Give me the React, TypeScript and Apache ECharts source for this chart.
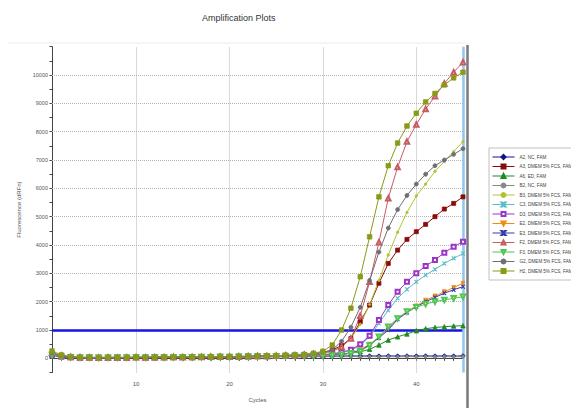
import React, { useEffect, useRef } from "react";
import * as echarts from "echarts";

const cycles = [1, 2, 3, 4, 5, 6, 7, 8, 9, 10, 11, 12, 13, 14, 15, 16, 17, 18, 19, 20, 21, 22, 23, 24, 25, 26, 27, 28, 29, 30, 31, 32, 33, 34, 35, 36, 37, 38, 39, 40, 41, 42, 43, 44, 45];

const xTickLabels = [10, 20, 30, 40];
const yTickLabels = [0, 1000, 2000, 3000, 4000, 5000, 6000, 7000, 8000, 9000, 10000];
const threshold = 1000;

const seriesNames = [
  "A2, NC, FAM",
  "A3, DMEM 5% FCS, FAM",
  "A6, ED, FAM",
  "B2, NC, FAM",
  "B3, DMEM 5% FCS, FAM",
  "C3, DMEM 5% FCS, FAM",
  "D3, DMEM 5% FCS, FAM",
  "E2, DMEM 5% FCS, FAM",
  "E3, DMEM 5% FCS, FAM",
  "F2, DMEM 5% FCS, FAM",
  "F3, DMEM 5% FCS, FAM",
  "G2, DMEM 5% FCS, FAM",
  "H2, DMEM 5% FCS, FAM",
];

const a2 = [120, 60, 40, 30, 35, 30, 40, 35, 30, 40, 35, 40, 45, 40, 50, 45, 50, 55, 50, 60, 55, 60, 65, 60, 70, 65, 70, 75, 70, 80, 75, 80, 85, 80, 85, 80, 85, 80, 85, 80, 85, 80, 85, 80, 85];
const a3 = [150, 70, 40, 20, 30, 20, 25, 30, 20, 30, 25, 30, 35, 30, 40, 45, 40, 50, 55, 60, 60, 70, 75, 80, 90, 100, 110, 130, 160, 200, 300, 450, 700, 1290, 1880, 2650, 3350, 3820, 4200, 4470, 4730, 5000, 5270, 5470, 5700];
const a6 = [180, 90, 50, 30, 25, 30, 20, 25, 30, 35, 30, 35, 40, 45, 40, 50, 45, 55, 60, 55, 65, 70, 75, 80, 85, 95, 100, 110, 115, 120, 130, 150, 180, 230, 320, 470, 645, 760, 860, 975, 1045, 1090, 1115, 1140, 1150];
const b2 = [100, 50, 30, 20, 25, 20, 30, 25, 20, 30, 25, 30, 35, 30, 35, 30, 40, 35, 40, 45, 40, 45, 50, 45, 50, 55, 50, 55, 60, 55, 60, 55, 60, 55, 60, 55, 60, 55, 60, 55, 60, 55, 60, 55, 60];
const b3 = [160, 80, 40, 25, 20, 30, 25, 20, 30, 25, 35, 30, 35, 40, 45, 40, 50, 55, 50, 60, 65, 70, 75, 85, 90, 100, 115, 130, 160, 190, 250, 400, 700, 1200, 1900, 2750, 3650, 4450, 5150, 5730, 6150, 6600, 6950, 7300, 7650];
const c3 = [140, 70, 45, 30, 25, 20, 25, 30, 25, 30, 30, 35, 30, 40, 35, 45, 40, 50, 45, 55, 60, 60, 65, 70, 75, 85, 90, 100, 115, 130, 150, 200, 280, 450, 760, 1235, 1700, 2120, 2435, 2700, 2940, 3140, 3350, 3530, 3700];
const d3 = [130, 60, 35, 25, 30, 25, 20, 30, 25, 35, 30, 30, 40, 35, 45, 40, 45, 50, 55, 50, 60, 65, 70, 75, 80, 90, 95, 105, 120, 135, 150, 220, 300, 500, 800, 1350, 1880, 2350, 2700, 3000, 3260, 3470, 3730, 3940, 4115];
const e2 = [170, 80, 45, 30, 25, 30, 25, 30, 25, 35, 30, 35, 40, 35, 40, 45, 50, 45, 55, 50, 60, 65, 65, 70, 80, 85, 90, 100, 105, 115, 120, 150, 200, 300, 500, 750, 1050, 1410, 1650, 1850, 2050, 2200, 2350, 2500, 2650];
const e3 = [110, 55, 35, 25, 20, 25, 20, 25, 20, 30, 25, 30, 35, 30, 35, 40, 35, 45, 40, 50, 50, 55, 60, 65, 70, 75, 80, 90, 100, 105, 110, 140, 190, 280, 470, 720, 1000, 1380, 1620, 1820, 2000, 2150, 2300, 2420, 2530];
const f2 = [200, 90, 50, 35, 30, 25, 30, 25, 30, 35, 30, 40, 35, 45, 40, 50, 45, 55, 60, 60, 65, 70, 80, 85, 90, 100, 110, 125, 150, 190, 250, 400, 700, 1500, 2700, 4100, 5650, 6750, 7650, 8250, 8800, 9250, 9700, 10100, 10450];
const f3 = [120, 60, 40, 25, 30, 20, 25, 30, 25, 30, 25, 35, 30, 35, 40, 35, 45, 40, 50, 45, 55, 55, 60, 65, 70, 75, 80, 85, 90, 95, 100, 130, 180, 250, 450, 760, 1115, 1410, 1650, 1800, 1915, 2000, 2060, 2120, 2175];
const g2 = [190, 85, 50, 30, 30, 25, 30, 30, 25, 35, 35, 40, 35, 40, 45, 45, 50, 50, 55, 60, 60, 65, 75, 80, 90, 100, 110, 130, 160, 210, 300, 600, 1100, 1800, 2750, 3750, 4600, 5250, 5750, 6150, 6500, 6800, 7000, 7200, 7400];
const h2 = [260, 120, 60, 40, 35, 30, 35, 30, 35, 40, 35, 40, 45, 40, 50, 45, 55, 60, 60, 65, 70, 75, 80, 90, 95, 110, 120, 140, 180, 250, 470, 1000, 1770, 2880, 4290, 5700, 6800, 7600, 8200, 8650, 9050, 9350, 9650, 9900, 10100];

const seriesValues = [a2, a3, a6, b2, b3, c3, d3, e2, e3, f2, f3, g2, h2];

const crossPath = "path://M0,0L2,0L5,3L8,0L10,0L6,5L10,10L8,10L5,7L2,10L0,10L4,5Z";

const seriesStyles: any[] = [
  { color: "#14148a", symbol: "diamond", size: 4.5 },
  { color: "#8b0a0a", symbol: "rect", size: 4 },
  { color: "#1f8a1f", symbol: "triangle", size: 4.5 },
  { color: "#8a8a8a", symbol: "circle", size: 3 },
  { color: "#b3c235", symbol: "circle", size: 2.5 },
  { color: "#5cbcc8", symbol: crossPath, size: 3.5 },
  { color: "#9b35c8", symbol: "emptyRect", size: 4 },
  { color: "#f08c10", symbol: "triangle", size: 4, rotate: 180 },
  { color: "#3a3aa8", symbol: crossPath, size: 3.5 },
  { color: "#c85a64", symbol: "emptyTriangle", size: 4.5 },
  { color: "#52c452", symbol: "emptyTriangle", size: 4.5, rotate: 180 },
  { color: "#6e6e78", symbol: "circle", size: 4 },
  { color: "#8a9a18", symbol: "rect", size: 4.5 },
];

const FONT = "'Liberation Sans Narrow', 'Liberation Sans', Arial, sans-serif";

export default function App() {
  const ref = useRef<HTMLDivElement>(null);

  useEffect(() => {
    if (!ref.current) return;
    const chart = echarts.init(ref.current, null, { renderer: "svg" });

    const dataSeries = seriesNames.map((name, si) => {
      const st = seriesStyles[si];
      return {
        name,
        type: "line",
        data: cycles.map((c, i) => [c, seriesValues[si][i]]),
        symbol: st.symbol,
        symbolSize: st.size,
        symbolRotate: st.rotate || 0,
        showSymbol: true,
        lineStyle: { color: st.color, width: 1 },
        itemStyle: { color: st.color, borderColor: st.color, borderWidth: 0.8 },
        z: 5,
      };
    });

    const gridLines = [
      ...xTickLabels.map((v) => ({ xAxis: v })),
      ...yTickLabels.filter((v) => v > 0).map((v) => ({ yAxis: v })),
    ];

    chart.setOption({
      animation: false,
      backgroundColor: "#ffffff",
      title: {
        text: "Amplification Plots",
        left: 197,
        top: 8,
        textStyle: { fontSize: 9, fontWeight: "normal", color: "#333", fontFamily: FONT },
      },
      legend: {
        data: seriesNames,
        orient: "vertical",
        left: 489,
        top: 148,
        itemWidth: 22,
        itemHeight: 5,
        itemGap: 3.5,
        padding: [6, 3, 6, 3],
        borderColor: "#c0c0c0",
        borderWidth: 1,
        lineStyle: { width: 1 },
        textStyle: { fontSize: 4.6, color: "#444", fontFamily: FONT, lineHeight: 5.5 },
        selectedMode: false,
      },
      grid: { left: 52, right: 116, top: 46.7, bottom: 43.5, containLabel: false },
      xAxis: {
        type: "value",
        min: 1,
        max: 45,
        interval: 1,
        name: "Cycles",
        nameLocation: "middle",
        nameGap: 24,
        nameTextStyle: { fontSize: 6, color: "#555", fontFamily: FONT },
        axisLine: { show: true, lineStyle: { color: "#444", width: 1 } },
        axisTick: { show: true, length: 2.5, lineStyle: { color: "#444" } },
        axisLabel: {
          fontSize: 6,
          color: "#555",
          fontFamily: FONT,
          margin: 8,
          formatter: (v: number) => (xTickLabels.indexOf(v) >= 0 ? String(v) : ""),
        },
        splitLine: { show: false },
      },
      yAxis: {
        type: "value",
        min: -500,
        max: 11000,
        interval: 500,
        name: "Fluorescence (dRFn)",
        nameLocation: "middle",
        nameGap: 24,
        nameRotate: 90,
        nameTextStyle: { fontSize: 6, color: "#555", fontFamily: FONT },
        axisLine: { show: true, lineStyle: { color: "#444", width: 1 } },
        axisTick: { show: true, length: 2.5, lineStyle: { color: "#444" } },
        axisLabel: {
          fontSize: 5.5,
          color: "#555",
          fontFamily: FONT,
          margin: 4,
          formatter: (v: number) => (yTickLabels.indexOf(v) >= 0 ? String(v) : ""),
        },
        splitLine: { show: false },
      },
      graphic: [
        {
          type: "rect",
          shape: { x: 7, y: 43, width: 460, height: 369 },
          style: { fill: "none", stroke: "#ededed", lineWidth: 1 },
          z: 0,
        },
        {
          type: "line",
          shape: { x1: 467.5, y1: 45, x2: 467.5, y2: 412 },
          style: { stroke: "#7a7a7a", lineWidth: 2.5 },
          z: 10,
        },
      ],
      series: [
        {
          name: "grid",
          type: "line",
          data: [],
          silent: true,
          z: 1,
          markLine: {
            silent: true,
            symbol: ["none", "none"],
            label: { show: false },
            lineStyle: { color: "#b5b5b5", type: "dotted", width: 1 },
            data: gridLines,
          },
        },
        ...dataSeries,
        {
          name: "threshold",
          type: "line",
          data: [],
          silent: true,
          z: 8,
          markLine: {
            silent: true,
            symbol: ["none", "none"],
            label: { show: false },
            lineStyle: { color: "#1414e6", type: "solid", width: 2.5 },
            data: [{ yAxis: threshold }],
          },
        },
        {
          name: "cursor",
          type: "line",
          data: [],
          silent: true,
          z: 9,
          markLine: {
            silent: true,
            symbol: ["none", "none"],
            label: { show: false },
            lineStyle: { color: "#8ec6ec", type: "solid", width: 2.5 },
            data: [{ xAxis: 45 }],
          },
        },
      ],
    });

    return () => chart.dispose();
  }, []);

  return <div ref={ref} style={{ width: 579, height: 416, margin: -8 }} />;
}
